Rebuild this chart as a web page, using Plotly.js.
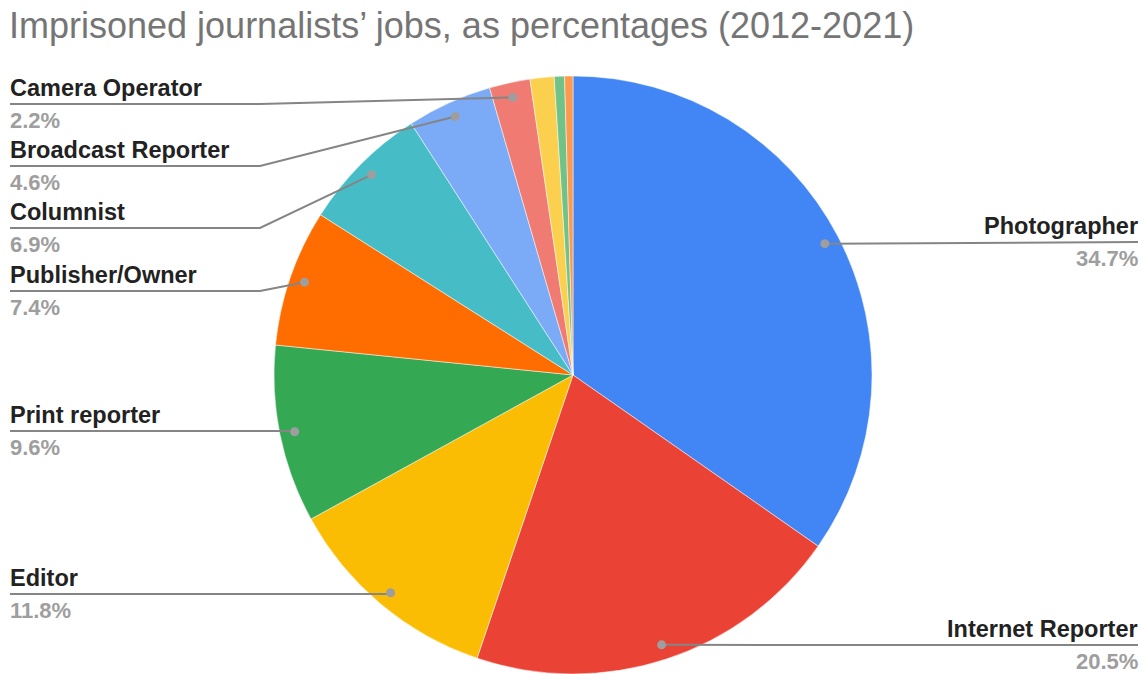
<!DOCTYPE html>
<html>
<head>
<meta charset="utf-8">
<script src="https://cdn.plot.ly/plotly-3.0.1.min.js"></script>
<style>html,body{margin:0;padding:0;background:#fff;}#chart{width:1142px;height:674px;}</style>
</head>
<body>
<div id="chart"></div>
<script>
// ---- data ----
const categories = ['Photographer','Internet Reporter','Editor','Print reporter','Publisher/Owner','Columnist','Broadcast Reporter','Camera Operator','Other (a)','Other (b)','Other (c)'];
const values = [34.7, 20.5, 11.8, 9.6, 7.4, 6.9, 4.6, 2.2, 1.3, 0.55, 0.45];
const labeled = [true, true, true, true, true, true, true, true, false, false, false];
const colors = ['#4285f4','#ea4335','#fbbc04','#34a853','#ff6d01','#46bdc6','#7baaf7','#f07b72','#fcd04f','#71c287','#ff994d'];
const titleText = 'Imprisoned journalists\u2019 jobs, as percentages (2012-2021)';

// ---- label placement (layout only) ----
const labelSide = ['right','right','left','left','left','left','left','left'];
const labelLineY = [242, 645, 594, 431, 291, 228, 166, 104];

const W = 1142, H = 674;
const cx = 573, cy = 375, R = 299;
const leftX = 10, rightX = 1138, bendX = 260;

const px = x => x / W;
const py = y => 1 - y / H;

const total = values.reduce((a, b) => a + b, 0);
const shapes = [], annotations = [];
const FONT = 'Liberation Sans, Arial, sans-serif';
let cum = 0;
values.forEach((v, i) => {
  const mid = (cum + v / 2) / total * 2 * Math.PI;
  cum += v;
  if (!labeled[i]) return;
  const r = 0.95 * R;
  const dx = cx + r * Math.sin(mid), dy = cy - r * Math.cos(mid);
  const ly = labelLineY[i];
  const side = labelSide[i];
  let path;
  if (side === 'right') {
    path = `M ${px(dx)},${py(dy)} L ${px(rightX)},${py(ly)}`;
  } else {
    const bx = Math.abs(ly - dy) < 3 ? dx : bendX;
    path = `M ${px(leftX)},${py(ly)} L ${px(bx)},${py(ly)} L ${px(dx)},${py(dy)}`;
  }
  shapes.push({type:'path', xref:'paper', yref:'paper', path:path, line:{color:'#858585', width:2}, layer:'above'});
  shapes.push({type:'circle', xref:'paper', yref:'paper', x0:px(dx-4.5), x1:px(dx+4.5), y0:py(dy+4.5), y1:py(dy-4.5), fillcolor:'#9e9e9e', line:{width:0}, layer:'above'});
  const tx = side === 'right' ? rightX + 2 : leftX - 2;
  const xa = side === 'right' ? 'right' : 'left';
  annotations.push({xref:'paper', yref:'paper', x:px(tx), y:py(ly-1), xanchor:xa, yanchor:'bottom', showarrow:false,
    text:categories[i], font:{family:FONT, size:23.5, color:'#222222', weight:'bold'}});
  annotations.push({xref:'paper', yref:'paper', x:px(tx), y:py(ly+2), xanchor:xa, yanchor:'top', showarrow:false,
    text:(v / total * 100).toFixed(1) + '%', font:{family:FONT, size:22, color:'#9e9e9e', weight:'bold'}});
});

const trace = {
  type:'pie', labels:categories, values:values, sort:false, direction:'clockwise', rotation:0,
  textinfo:'none', hoverinfo:'label+percent',
  marker:{colors:colors, line:{color:'#ffffff', width:0.5}},
  domain:{x:[(cx - R) / W, (cx + R) / W], y:[(H - cy - R) / H, (H - cy + R) / H]},
  showlegend:false
};

const layout = {
  width:W, height:H, margin:{l:0, r:0, t:0, b:0},
  paper_bgcolor:'#ffffff',
  title:{text:titleText, x:px(9), xanchor:'left', xref:'paper', y:py(25), yanchor:'middle',
    font:{family:FONT, size:36, color:'#757575'}},
  shapes:shapes, annotations:annotations
};

Plotly.newPlot('chart', [trace], layout, {displayModeBar:false, staticPlot:true});
</script>
</body>
</html>
